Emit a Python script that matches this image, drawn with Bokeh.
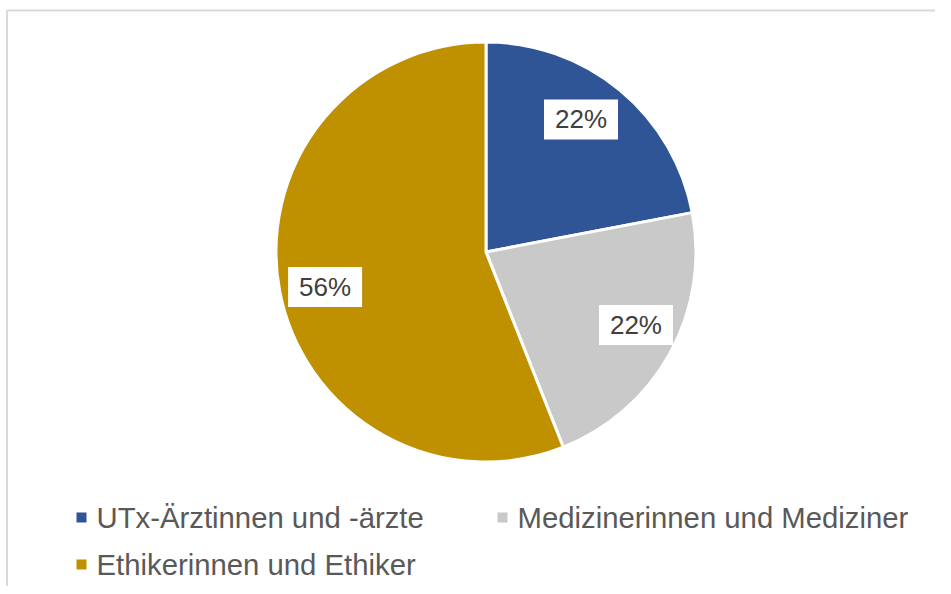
import numpy as np
from bokeh.plotting import figure
from bokeh.models import Range1d
from bokeh.core.properties import value
from bokeh.embed import file_html
from bokeh.resources import INLINE

# ---- data ----
categories = ["UTx-Ärztinnen und -ärzte", "Medizinerinnen und Mediziner", "Ethikerinnen und Ethiker"]
shares = [22, 22, 56]
labels = ["22%", "22%", "56%"]

# ---- style ----
colors = ["#2F5597", "#C9C9C9", "#BF9000"]
FONT = value("Liberation Sans")

W, H = 935, 586
p = figure(width=W, height=H, x_range=Range1d(0, W), y_range=Range1d(0, H),
           output_backend="svg", toolbar_location=None, min_border=0,
           x_axis_type=None, y_axis_type=None, outline_line_color=None,
           background_fill_color="white", border_fill_color="white")
p.grid.visible = False

# chart-area border (light grey)
p.segment(x0=[6.5, 6.5], y0=[576, -5], x1=[W + 5, 6.5], y1=[576, 576], line_color="#D9D9D9", line_width=2)

# pie
cx, cy, r = 485.5, 334.5, 210
frac = np.array(shares, dtype=float) / sum(shares)
cum = np.concatenate([[0.0], np.cumsum(frac)])
start = np.pi / 2 - 2 * np.pi * cum[:-1]
end = np.pi / 2 - 2 * np.pi * cum[1:]
p.wedge(x=cx, y=cy, radius=r, start_angle=list(start), end_angle=list(end), direction="clock",
        fill_color=colors, line_color="white", line_width=3)

# data labels
mid = (start + end) / 2
rl = 0.78 * r
nudge_x = [-9.4, 6.4, 0.0]
nudge_y = [6.3, 5.9, -4.3]
lx = [cx + rl * np.cos(a) + nx for a, nx in zip(mid, nudge_x)]
ly = [cy + rl * np.sin(a) + ny for a, ny in zip(mid, nudge_y)]
p.rect(x=lx, y=ly, width=74, height=40, width_units="screen", height_units="screen",
       fill_color="white", line_color=None)
p.text(x=lx, y=ly, text=labels, text_align="center", text_baseline="middle",
       text_font=FONT, text_font_size="26px", text_color="#404040")

# legend (manual layout: 2 columns, 2 rows)
leg_mx = [81, 502, 81]
leg_y = [69, 69, 22]
leg_tx = [m + 15 for m in leg_mx]
p.scatter(x=leg_mx, y=leg_y, marker="square", size=10, fill_color=colors, line_color=None)
p.text(x=leg_tx, y=leg_y, text=categories, text_align="left", text_baseline="middle",
       text_font=FONT, text_font_size="29.3px", text_color="#595959")

open("out.html", "w").write(file_html(p, INLINE))
